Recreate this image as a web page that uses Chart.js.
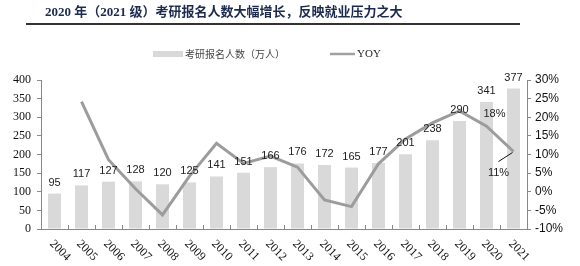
<!DOCTYPE html>
<html>
<head>
<meta charset="utf-8">
<script src="https://cdn.jsdelivr.net/npm/chart.js@4/dist/chart.umd.min.js"></script>
<style>
  html, body { margin: 0; padding: 0; background: #fff; }
  #wrap { width: 580px; height: 266px; position: relative; }
</style>
</head>
<body>
<div id="wrap"><canvas id="bar-chart" width="580" height="266"></canvas></div>
<script>
const titleText = "2020 年（2021 级）考研报名人数大幅增长，反映就业压力之大";
const years = ["2004","2005","2006","2007","2008","2009","2010","2011","2012","2013","2014","2015","2016","2017","2018","2019","2020","2021"];
const applicants = [95, 117, 127, 128, 120, 125, 141, 151, 166, 176, 172, 165, 177, 201, 238, 290, 341, 377];
const yoy = [null, 24.2, 8.6, 0.8, -6.2, 4.2, 13.0, 7.6, 9.6, 6.6, -2.2, -4.0, 7.5, 14.2, 18.5, 21.7, 17.6, 10.8];
const barLabel = "考研报名人数（万人）";
const lineLabel = "YOY";

const serif = "'Liberation Serif', 'Times New Roman', serif";
const sans = "'Liberation Sans', Arial, sans-serif";
const cjk = "'Noto Sans CJK SC', sans-serif";

const decor = {
    id: "decor",
    afterDraw(chart) {
        const c = chart.ctx;
        const x = chart.scales.x;
        const yl = chart.scales.y;
        const yr = chart.scales.y1;
        c.save();

        // title + rule
        c.fillStyle = "#1b2a4e";
        c.font = "bold 13px " + serif + ", " + cjk;
        c.textBaseline = "middle";
        c.textAlign = "left";
        c.fillText(titleText, 45, 13);
        c.fillStyle = "#333";
        c.fillRect(26, 23, 494, 2);

        // legend
        c.fillStyle = "#d9d9d9";
        c.fillRect(153, 51, 30, 6);
        c.fillStyle = "#444";
        c.font = "10px " + cjk;
        c.fillText(barLabel, 185, 54);
        c.strokeStyle = "#a0a0a0";
        c.lineWidth = 2.5;
        c.beginPath(); c.moveTo(330, 54); c.lineTo(355, 54); c.stroke();
        c.fillStyle = "#222";
        c.font = "11px " + serif;
        c.fillText(lineLabel, 357, 54);

        // x tick marks between categories (pointing up)
        const step = x.getPixelForValue(1) - x.getPixelForValue(0);
        c.strokeStyle = "#888";
        c.lineWidth = 1;
        for (let i = 0; i <= years.length; i++) {
            const px = Math.round(x.getPixelForValue(0) - step / 2 + i * step) + 0.5;
            c.beginPath(); c.moveTo(px, x.top); c.lineTo(px, x.top - 4); c.stroke();
        }

        // x labels rotated down-right
        c.fillStyle = "#111";
        c.font = "12px " + serif;
        c.textAlign = "left";
        c.textBaseline = "middle";
        years.forEach((yr_, i) => {
            const px = x.getPixelForValue(i);
            c.save();
            c.translate(px - 3, x.top + 13);
            c.rotate(Math.PI / 4);
            c.fillText(yr_, 0, 0);
            c.restore();
        });

        // bar value labels
        c.fillStyle = "#222";
        c.font = "11px " + sans;
        c.textAlign = "center";
        c.textBaseline = "alphabetic";
        applicants.forEach((v, i) => {
            c.fillText(String(v), x.getPixelForValue(i), yl.getPixelForValue(v) - 8);
        });

        // YOY labels for last two points
        const i20 = years.indexOf("2020");
        const i21 = years.indexOf("2021");
        c.textBaseline = "middle";
        c.fillText(Math.round(yoy[i20]) + "%", x.getPixelForValue(i20) + 8, yr.getPixelForValue(yoy[i20]) - 12);
        const p21x = x.getPixelForValue(i21), p21y = yr.getPixelForValue(yoy[i21]);
        c.strokeStyle = "#111";
        c.lineWidth = 1;
        c.beginPath(); c.moveTo(p21x - 1, p21y + 1); c.lineTo(p21x - 15, p21y + 10); c.stroke();
        c.fillText(Math.round(yoy[i21]) + "%", p21x - 15, p21y + 21);
        c.restore();
    }
};

const ctx = document.getElementById("bar-chart");
let chartGraph = new Chart(ctx, {
    type: "bar",
    data: {
        labels: years,
        datasets: [{
            type: "line",
            label: lineLabel,
            data: yoy,
            yAxisID: "y1",
            borderColor: "#9c9c9c",
            borderWidth: 3,
            pointRadius: 0,
            tension: 0,
            spanGaps: false,
            order: 0,
        }, {
            label: barLabel,
            data: applicants,
            yAxisID: "y",
            backgroundColor: "#d9d9d9",
            categoryPercentage: 1,
            barPercentage: 0.48,
            order: 1,
        }]
    },
    options: {
        responsive: false,
        animation: false,
        layout: { padding: { top: 80, left: 0, right: 0, bottom: 0 } },
        plugins: { legend: { display: false }, tooltip: { enabled: false } },
        scales: {
            x: {
                offset: true,
                grid: { display: false },
                border: { color: "#888" },
                ticks: { display: false },
                afterFit: (s) => { s.height = 37; },
            },
            y: {
                position: "left",
                min: 0, max: 400,
                ticks: { stepSize: 50, color: "#111", padding: 6, font: { family: serif, size: 12 } },
                grid: { drawOnChartArea: false, tickLength: 4, color: "#888" },
                border: { color: "#888" },
                afterFit: (s) => { s.width = 41; },
            },
            y1: {
                position: "right",
                min: -10, max: 30,
                ticks: { stepSize: 5, color: "#111", padding: 4, font: { family: sans, size: 12 }, callback: (v) => v + "%" },
                grid: { drawOnChartArea: false, tickLength: 4, color: "#888" },
                border: { color: "#888" },
                afterFit: (s) => { s.width = 53; },
            }
        }
    },
    plugins: [decor]
});
</script>
</body>
</html>
